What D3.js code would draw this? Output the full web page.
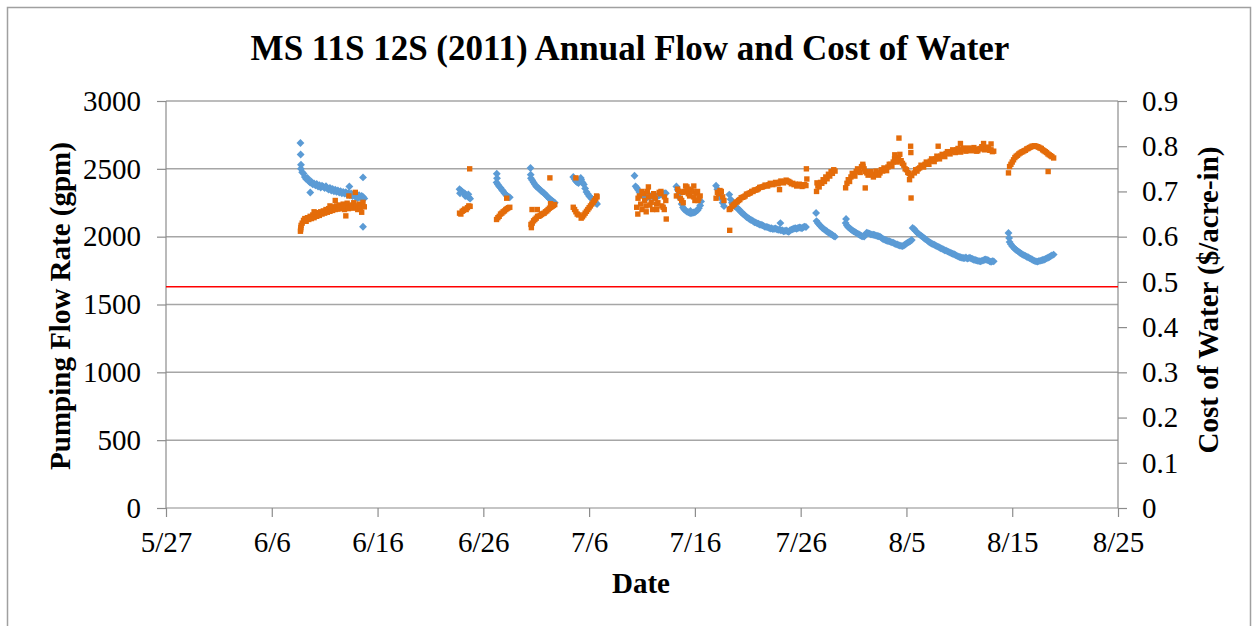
<!DOCTYPE html>
<html><head><meta charset="utf-8">
<script src="https://cdn.jsdelivr.net/npm/d3@7"></script>
<style>body{margin:0;background:#fff} text{font-family:"Liberation Serif","Times New Roman",serif;fill:#000}</style>
</head><body><svg id="c" width="1253" height="626"></svg>
<script>
const title = "MS 11S 12S (2011) Annual Flow and Cost of Water";
const xTitle = "Date";
const yLeftTitle = "Pumping Flow Rate (gpm)";
const yRightTitle = "Cost of Water ($/acre-in)";
const xTickLabels = ["5/27","6/6","6/16","6/26","7/6","7/16","7/26","8/5","8/15","8/25"];
const flowTicks = [0,500,1000,1500,2000,2500,3000];
const costTicks = [0,0.1,0.2,0.3,0.4,0.5,0.6,0.7,0.8,0.9];
const redLineFlow = 1630;
const stepHours = 3;
const segStarts = ["6/8 18:00","6/23 18:00","6/27 06:00","6/30 12:00","7/4 12:00","7/5 06:00","7/10 12:00","7/14 06:00","7/18 00:00","7/19 06:00","7/27 12:00","7/30 06:00","8/5 18:00","8/14 18:00"];
const flowValues = [
 [2500,2475,2465,2440,2425,2432,2410,2398,2405,2385,2392,2378,2388,2370,2380,2362,2375,2368,2358,2372,2355,2348,2360,2340,2352,2335,2346,2330,2341,2325,2336,2320,2330,2318,2328,2310,2322,2306,2318,2300,2312,2296,2308,2290,2305,2286,2300,2292,2282],
 [2350,2340,2332,2325,2318,2305,2298,2290,2280],
 [2400,2385,2370,2360,2345,2335,2320,2310,2300,2295,2290],
 [2430,2415,2400,2385,2370,2362,2355,2345,2335,2328,2320,2310,2300,2290,2280,2272,2265,2258,2250],
 [2440,2425,2410,2400,2395],
 [2420,2400,2385,2355,2330,2315,2300,2290,2280,2270,2260,2250,2240],
 [2360,2345,2330,2320,2310,2305,2300,2295,2290,2298,2295,2302,2300,2292,2290,2296,2300,2305,2310,2312,2315,2318,2320],
 [2370,2345,2320,2280,2240,2215,2200,2192,2185,2180,2175,2172,2175,2178,2180,2188,2195,2210,2230],
 [2376,2350,2330,2305,2280,2250,2225],
 [2310,2275,2250,2238,2225,2222,2210,2200,2195,2180,2170,2165,2155,2145,2140,2132,2125,2122,2115,2106,2105,2098,2095,2090,2088,2084,2080,2072,2072,2070,2066,2060,2062,2056,2058,2060,2055,2050,2052,2046,2048,2040,2042,2045,2040,2035,2048,2052,2055,2060,2062,2058,2064,2068,2066,2062,2070,2074,2071],
 [2115,2100,2090,2078,2068,2060,2052,2045,2038,2030,2025,2018,2012,2005,2000],
 [2100,2082,2070,2062,2055,2046,2040,2035,2028,2022,2018,2010,2005,2002,2000,2015,2030,2026,2022,2018,2015,2014,2012,2008,2005,2003,2000,1992,1985,1980,1975,1972,1968,1966,1962,1958,1955,1950,1945,1942,1938,1935,1932,1930,1935,1942,1950,1956,1962,1968,1975],
 [2055,2042,2030,2022,2015,2008,2000,1992,1985,1978,1970,1962,1955,1950,1945,1940,1935,1930,1925,1920,1915,1910,1905,1900,1897,1892,1888,1882,1878,1874,1870,1865,1860,1855,1850,1848,1845,1843,1842,1846,1838,1842,1845,1838,1835,1830,1828,1825,1822,1820,1818,1822,1825,1830,1832,1828,1825,1818,1815,1820,1818],
 [1960,1945,1930,1920,1910,1902,1895,1888,1880,1874,1868,1862,1858,1852,1848,1842,1838,1832,1825,1822,1818,1816,1820,1822,1825,1828,1830,1835,1840,1845,1850,1856,1862]
];
const costValues = [
 [0.620,0.630,0.636,0.640,0.634,0.642,0.638,0.645,0.640,0.648,0.642,0.650,0.645,0.653,0.647,0.655,0.650,0.657,0.652,0.660,0.654,0.662,0.656,0.664,0.658,0.666,0.660,0.668,0.661,0.670,0.662,0.665,0.672,0.660,0.668,0.674,0.662,0.666,0.670,0.663,0.675,0.665,0.668,0.660,0.672,0.664,0.669,0.676,0.666],
 [0.652,0.650,0.656,0.658,0.661,0.660,0.664,0.668,0.667],
 [0.638,0.642,0.645,0.650,0.652,0.655,0.657,0.660,0.662,0.664,0.665],
 [0.627,0.630,0.635,0.638,0.641,0.645,0.645,0.647,0.649,0.651,0.652,0.655,0.657,0.660,0.663,0.665,0.667,0.669,0.671],
 [0.665,0.660,0.655,0.650,0.648],
 [0.641,0.644,0.648,0.652,0.656,0.660,0.664,0.668,0.672,0.676,0.680,0.684,0.688],
 [0.665,0.685,0.690,0.672,0.660,0.695,0.680,0.668,0.700,0.688,0.670,0.676,0.660,0.690,0.685,0.672,0.675,0.698,0.695,0.668,0.665,0.688,0.680],
 [0.690,0.705,0.700,0.685,0.680,0.698,0.700,0.712,0.710,0.695,0.690,0.702,0.700,0.688,0.680,0.696,0.700,0.685,0.690],
 [0.685,0.698,0.695,0.702,0.700,0.688,0.680],
 [0.660,0.662,0.667,0.670,0.672,0.676,0.677,0.680,0.682,0.686,0.687,0.688,0.690,0.694,0.694,0.696,0.697,0.700,0.700,0.703,0.703,0.704,0.706,0.709,0.709,0.710,0.711,0.714,0.713,0.712,0.715,0.718,0.716,0.715,0.717,0.720,0.718,0.717,0.720,0.723,0.721,0.719,0.722,0.725,0.723,0.722,0.720,0.717,0.718,0.715,0.716,0.712,0.714,0.716,0.714,0.711,0.713,0.715,0.713],
 [0.700,0.712,0.710,0.720,0.718,0.726,0.722,0.732,0.728,0.738,0.734,0.744,0.740,0.748,0.745],
 [0.708,0.718,0.726,0.722,0.732,0.740,0.738,0.734,0.744,0.750,0.748,0.742,0.755,0.760,0.750,0.744,0.741,0.736,0.738,0.744,0.737,0.732,0.738,0.745,0.740,0.736,0.741,0.748,0.745,0.752,0.750,0.746,0.754,0.760,0.760,0.756,0.765,0.772,0.770,0.765,0.775,0.782,0.768,0.762,0.758,0.750,0.748,0.742,0.740,0.736,0.735],
 [0.741,0.748,0.745,0.750,0.752,0.758,0.757,0.754,0.760,0.765,0.763,0.760,0.767,0.772,0.770,0.766,0.772,0.778,0.775,0.772,0.778,0.782,0.780,0.777,0.784,0.788,0.786,0.783,0.788,0.792,0.790,0.786,0.792,0.795,0.790,0.787,0.792,0.796,0.793,0.789,0.791,0.796,0.794,0.790,0.792,0.797,0.793,0.789,0.790,0.794,0.795,0.799,0.797,0.792,0.794,0.798,0.796,0.791,0.792,0.788,0.789],
 [0.755,0.760,0.765,0.770,0.775,0.778,0.780,0.783,0.785,0.787,0.788,0.790,0.791,0.794,0.795,0.797,0.798,0.800,0.800,0.801,0.800,0.799,0.798,0.796,0.795,0.792,0.790,0.788,0.786,0.783,0.781,0.779,0.777]
];
const flowExtra = [
 ["6/8 17:00",2690],["6/8 17:30",2606],["6/8 18:15",2530],["6/9 15:20",2326],["6/14 15:00",2437],["6/14 15:00",2073],
 ["6/13 08:00",2370],["6/14 02:30",2285],["6/23 19:00",2320],["6/24 07:00",2300],["6/24 14:00",2312],
 ["6/27 06:30",2464],["6/27 07:00",2430],["6/30 11:00",2506],["6/30 11:30",2457],["7/5 05:00",2432],
 ["7/10 07:00",2449],["7/10 09:30",2371],["7/16 14:00",2260],["7/15 14:00",2190],["7/27 11:00",2174],
 ["7/24 02:00",2100],["7/30 07:00",2130],["8/5 14:00",2064],["8/14 15:30",2027],["8/14 17:00",1990],["8/18 22:00",1868]
];
const costExtra = [
 ["6/8 17:00",0.612],["6/8 17:30",0.616],["6/8 18:30",0.625],["6/13 21:30",0.698],["6/13 07:00",0.690],["6/12 00:00",0.680],
 ["6/13 00:00",0.646],["6/14 12:00",0.654],["6/10 00:00",0.655],["6/11 12:00",0.668],["6/24 17:00",0.750],["6/28 05:00",0.685],
 ["6/30 13:00",0.620],["6/30 14:30",0.660],["7/1 02:30",0.660],["7/2 07:00",0.730],["7/2 08:30",0.673],["7/4 18:00",0.730],["7/6 17:00",0.690],
 ["7/10 14:30",0.650],["7/11 00:00",0.700],["7/11 09:30",0.655],["7/11 21:30",0.690],["7/12 09:30",0.660],["7/12 19:00",0.700],
 ["7/13 02:30",0.660],["7/13 07:00",0.639],["7/11 14:30",0.710],["7/12 02:30",0.695],
 ["7/14 21:30",0.675],["7/15 09:30",0.705],["7/16 07:00",0.680],["7/15 21:30",0.712],
 ["7/19 07:00",0.614],["7/26 13:00",0.750],["7/26 14:00",0.7275],["7/24 00:00",0.704],["7/27 13:00",0.719],
 ["8/4 07:00",0.818],["8/5 09:30",0.800],["8/5 10:00",0.786],["8/5 10:30",0.6855],["8/5 07:00",0.726],["8/1 02:30",0.7077],["7/31 21:30",0.7555],["8/3 21:30",0.781],
 ["8/8 00:00",0.800],["8/10 02:30",0.806],["8/12 07:00",0.806],["8/13 00:00",0.805],
 ["8/14 15:30",0.741],["8/18 09:30",0.744],["8/18 22:00",0.774]
];

const parseT = s => { const [md, hm = "00:00"] = s.split(" "); const [m, d] = md.split("/").map(Number); const [h, mi] = hm.split(":").map(Number); return new Date(2011, m - 1, d, h, mi); };
function buildSeries(vals, extra){
  const pts = [];
  vals.forEach((arr, i) => { const t0 = parseT(segStarts[i]); arr.forEach((v, j) => pts.push({t: d3.timeMinute.offset(t0, j * stepHours * 60), v})); });
  extra.forEach(([s, v]) => pts.push({t: parseT(s), v}));
  return pts;
}
const flowPts = buildSeries(flowValues, flowExtra);
const costPts = buildSeries(costValues, costExtra);

const svg = d3.select("#c");
const L = 166, R = 1118, T = 101, B = 508;
const xTicks = xTickLabels.map(s => parseT(s));
const x = d3.scaleTime().domain([xTicks[0], xTicks[xTicks.length - 1]]).range([L, R]);
const yL = d3.scaleLinear().domain([0, 3000]).range([B, T]);
const yR = d3.scaleLinear().domain([0, 0.9]).range([B, T]);

svg.append("rect").attr("x", 7.5).attr("y", 7.5).attr("width", 1243).attr("height", 640).attr("fill", "#fff").attr("stroke", "#a0a0a0").attr("stroke-width", 1.5);

svg.append("g").selectAll("line").data(flowTicks.filter(d => d > 0)).join("line")
  .attr("x1", L).attr("x2", R).attr("y1", d => yL(d)).attr("y2", d => yL(d))
  .attr("stroke", "#a6a6a6").attr("stroke-width", 1.5);

const axColor = "#8c8c8c";
const gL = svg.append("g").attr("transform", `translate(${L},0)`).call(d3.axisLeft(yL).tickValues(flowTicks).tickSize(9).tickPadding(16).tickFormat(d3.format("d")));
const gR = svg.append("g").attr("transform", `translate(${R},0)`).call(d3.axisRight(yR).tickValues(costTicks).tickSize(9).tickPadding(15).tickFormat(d => d === 0 ? "0" : d3.format(".1f")(d)));
const gB = svg.append("g").attr("transform", `translate(0,${B})`).call(d3.axisBottom(x).tickValues(xTicks).tickSize(9).tickPadding(14).tickFormat(d3.timeFormat("%-m/%-d")));
[gL, gR, gB].forEach(g => {
  g.select(".domain").attr("stroke", axColor).attr("stroke-width", 1.2);
  g.selectAll(".tick line").attr("stroke", axColor).attr("stroke-width", 1.2);
  g.selectAll(".tick text").attr("font-family", "Liberation Serif").attr("font-size", 29).attr("fill", "#000");
});
gL.select(".domain").attr("d", `M0,${B}V${T}`);
gR.select(".domain").attr("d", `M0,${B}V${T}`);
gB.select(".domain").attr("d", `M${L},0H${R}`);

svg.append("line").attr("x1", L).attr("x2", R).attr("y1", yL(redLineFlow)).attr("y2", yL(redLineFlow)).attr("stroke", "#ff0000").attr("stroke-width", 1.5);

const blueSym = d3.symbol(d3.symbolSquare, 31);
const orangeSym = d3.symbol(d3.symbolSquare, 29);
svg.append("g").selectAll("path").data(flowPts).join("path")
  .attr("d", blueSym).attr("fill", "#5B9BD5")
  .attr("transform", d => `translate(${x(d.t)},${yL(d.v)}) rotate(45)`);
svg.append("g").selectAll("path").data(costPts).join("path")
  .attr("d", orangeSym).attr("fill", "#E46C0A")
  .attr("transform", d => `translate(${x(d.t)},${yR(d.v)})`);

svg.append("text").attr("x", 630).attr("y", 60).attr("text-anchor", "middle").attr("font-size", 35).attr("font-weight", "bold").text(title);
svg.append("text").attr("x", 641).attr("y", 593).attr("text-anchor", "middle").attr("font-size", 29).attr("font-weight", "bold").text(xTitle);
svg.append("text").attr("transform", "translate(70,306) rotate(-90)").attr("text-anchor", "middle").attr("font-size", 29).attr("font-weight", "bold").text(yLeftTitle);
svg.append("text").attr("transform", "translate(1218,300) rotate(-90)").attr("text-anchor", "middle").attr("font-size", 29).attr("font-weight", "bold").text(yRightTitle);
</script></body></html>
